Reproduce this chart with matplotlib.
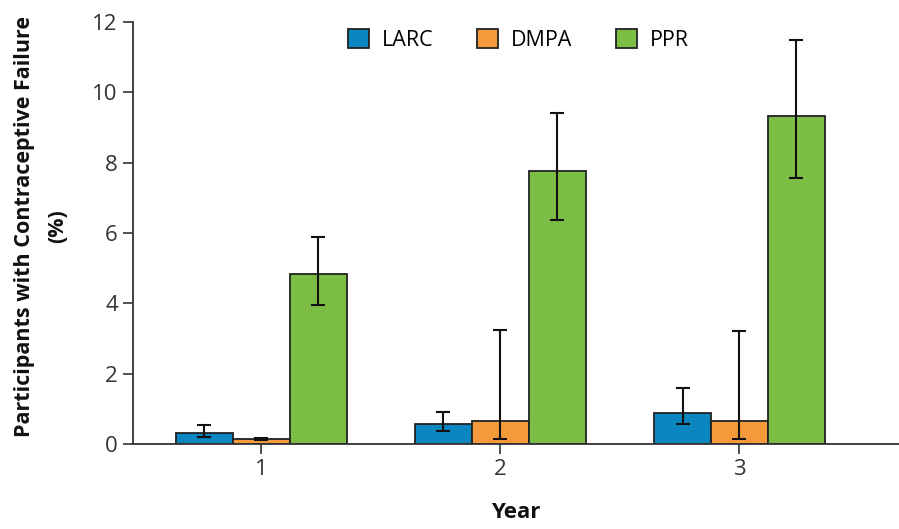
import numpy as np
import matplotlib
matplotlib.use("Agg")
import matplotlib.pyplot as plt

# ==========================================================
# DATA
# ==========================================================

years = ["1", "2", "3"]
methods = ["LARC", "DMPA", "PPR"]

larc = [0.32, 0.57, 0.89]
larc_low = [0.19, 0.36, 0.57]
larc_high = [0.54, 0.91, 1.58]

dmpa = [0.14, 0.66, 0.66]
dmpa_low = [0.10, 0.14, 0.13]
dmpa_high = [0.18, 3.24, 3.22]

ppr = [4.83, 7.75, 9.33]
ppr_low = [3.95, 6.37, 7.57]
ppr_high = [5.89, 9.40, 11.49]

colors = ["#0b86c0", "#f49a3b", "#7cbd46"]

# ==========================================================
# PLOT
# ==========================================================

plt.rcParams["font.family"] = ["Open Sans", "DejaVu Sans"]

fig = plt.figure(figsize=(8.99, 5.29), dpi=100)
ax = fig.add_axes([0.148, 0.1607, 0.852, 0.798])

x = np.arange(1, len(years) + 1)
width = 0.238

series = [
    (larc, larc_low, larc_high),
    (dmpa, dmpa_low, dmpa_high),
    (ppr, ppr_low, ppr_high),
]

for i, (vals, low, high) in enumerate(series):
    pos = x + (i - 1) * width
    vals = np.array(vals)
    yerr = np.vstack([vals - np.array(low), np.array(high) - vals])
    ax.bar(
        pos,
        vals,
        width=width,
        color=colors[i],
        edgecolor="#222222",
        linewidth=1.3,
        label=methods[i],
        zorder=2,
    )
    ax.errorbar(
        pos,
        vals,
        yerr=yerr,
        fmt="none",
        ecolor="#111111",
        elinewidth=1.5,
        capsize=4.7,
        capthick=1.5,
        zorder=3,
    )

ax.set_xlim(0.464, 3.667)
ax.set_ylim(0, 12)
ax.set_yticks(np.arange(0, 13, 2))
ax.set_xticks(x)
ax.set_xticklabels(years)

for side in ["top", "right"]:
    ax.spines[side].set_visible(False)
for side in ["left", "bottom"]:
    ax.spines[side].set_linewidth(1.3)
    ax.spines[side].set_color("#333333")

ax.tick_params(axis="both", direction="out", length=7, width=1.2,
               color="#333333", labelsize=16, labelcolor="#333333", pad=4)

ax.set_ylabel("Participants with Contraceptive Failure\n(%)",
              fontsize=15.5, fontweight="bold", color="#111111", labelpad=12,
              linespacing=1.75)
ax.yaxis.set_label_coords(-0.085, 0.515)
ax.set_xlabel("Year", fontsize=16, fontweight="bold", color="#111111",
              labelpad=16)

ax.legend(
    loc="upper center",
    bbox_to_anchor=(0.503, 1.03),
    ncol=3,
    frameon=False,
    fontsize=15.5,
    handlelength=1.0,
    handleheight=1.0,
    columnspacing=2.0,
    handletextpad=0.6,
)

fig.savefig("out.png", dpi=100)
